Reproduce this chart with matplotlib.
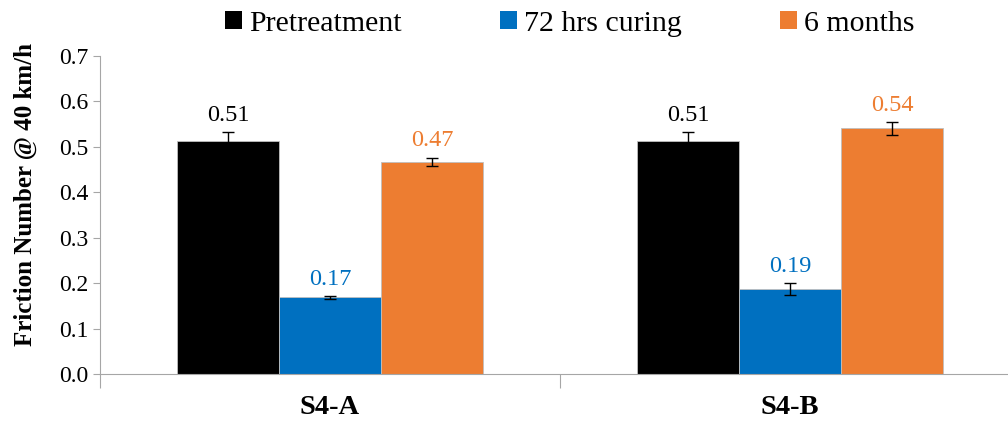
import numpy as np
import matplotlib.pyplot as plt
from matplotlib.patches import Patch

categories = ["S4-A", "S4-B"]
series = ["Pretreatment", "72 hrs curing", "6 months"]
pretreatment = [0.513, 0.513]
curing_72h = [0.169, 0.187]
six_months = [0.467, 0.541]
err_pre = [0.020, 0.020]
err_72h = [0.003, 0.013]
err_6m = [0.009, 0.014]
labels_pre = ["0.51", "0.51"]
labels_72h = ["0.17", "0.19"]
labels_6m = ["0.47", "0.54"]

colors = ["#000000", "#0070C0", "#ED7D31"]

plt.rcParams['font.family'] = ['Liberation Serif', 'DejaVu Serif']

fig = plt.figure(figsize=(10.08, 4.22), dpi=100)
ax = fig.add_axes([100 / 1008, 48 / 422, 920 / 1008, 318 / 422])

x = np.arange(len(categories))
w = 0.222
vals = [pretreatment, curing_72h, six_months]
errs = [err_pre, err_72h, err_6m]
labs = [labels_pre, labels_72h, labels_6m]

for i in range(3):
    pos = x + (i - 1) * w
    ax.bar(pos, vals[i], w, color=colors[i], edgecolor="#BFBFBF", linewidth=0.6,
           yerr=errs[i], capsize=4, error_kw=dict(ecolor="black", elinewidth=1.0, capthick=1.0))
    for p, v, e, t in zip(pos, vals[i], errs[i], labs[i]):
        ax.text(p, v + e + 0.014, t, ha="center", va="bottom", color=colors[i], fontsize=17.5)

ax.set_xlim(-0.5, 1.5)
ax.set_ylim(0, 0.7)
ax.set_yticks(np.arange(0, 0.71, 0.1))
ax.set_yticklabels([f"{v:.1f}" for v in np.arange(0, 0.71, 0.1)], fontsize=17)
ax.set_ylabel("Friction Number @ 40 km/h", fontsize=18, fontweight="bold")
ax.yaxis.set_label_coords(-0.068, 0.566)

ax.set_xticks([-0.5, 0.5, 1.5])
ax.set_xticklabels([])
ax.set_xticks(x, minor=True)
ax.set_xticklabels(categories, minor=True, fontsize=20.5, fontweight="bold")
ax.tick_params(axis="x", which="major", length=10, color="#A6A6A6", direction="out")
ax.tick_params(axis="x", which="minor", length=0, pad=15)
ax.tick_params(axis="y", length=5, color="#A6A6A6", direction="out")

for s in ["top", "right"]:
    ax.spines[s].set_visible(False)
for s in ["left", "bottom"]:
    ax.spines[s].set_color("#A6A6A6")

handles = [Patch(facecolor=c, edgecolor="none") for c in colors]
fig.legend(handles, series, loc="center", bbox_to_anchor=(570 / 1008, 1 - 24 / 422), ncol=3,
           frameon=False, fontsize=21.5, handlelength=0.55, handleheight=0.55,
           handletextpad=0.25, columnspacing=3.3)

fig.savefig("out.png", dpi=100)
